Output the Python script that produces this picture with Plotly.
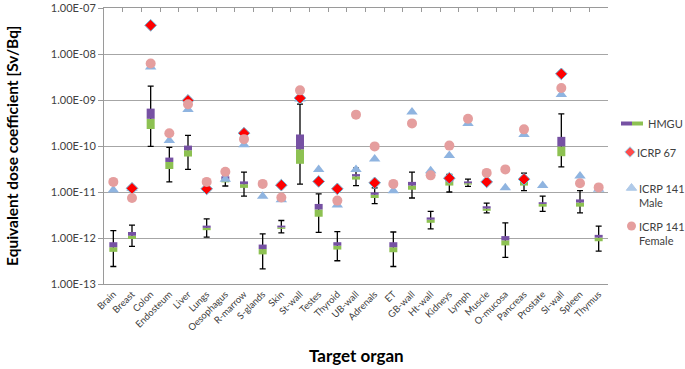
import plotly.graph_objects as go

# ---------------- data ----------------
organs = ["Brain", "Breast", "Colon", "Endosteum", "Liver", "Lungs", "Oesophagus",
          "R-marrow", "S-glands", "Skin", "St-wall", "Testes", "Thyroid", "UB-wall",
          "Adrenals", "ET", "GB-wall", "Ht-wall", "Kidneys", "Lymph", "Muscle",
          "O-mucosa", "Pancreas", "Prostate", "SI-wall", "Spleen", "Thymus"]

hmgu_max = [1.45e-12, 1.9e-12, 2.0e-9, 9.3e-11, 1.7e-10, 2.6e-12, 2.3e-11,
            2.7e-11, 1.23e-12, 2.4e-12, 8.1e-10, 9.1e-12, 1.38e-12, 3.3e-11,
            1.23e-11, 1.35e-12, 2.7e-11, 3.8e-12, 2.4e-11, 1.9e-11, 5.75e-12,
            2.14e-12, 2.57e-11, 8.1e-12, 5.0e-10, 1.07e-11, 1.82e-12]
hmgu_q3 = [8.1e-13, 1.35e-12, 6.5e-10, 5.6e-11, 1.02e-10, 1.86e-12, 2.19e-11,
           1.7e-11, 7.2e-13, 1.86e-12, 1.78e-10, 5.5e-12, 8.1e-13, 2.45e-11,
           9.8e-12, 8.1e-13, 1.66e-11, 2.8e-12, 2.0e-11, 1.7e-11, 4.9e-12,
           1.1e-12, 2.0e-11, 6.0e-12, 1.58e-10, 6.9e-12, 1.17e-12]
hmgu_med = [6.3e-13, 1.12e-12, 3.9e-10, 4.5e-11, 8.1e-11, 1.66e-12, 1.86e-11,
            1.48e-11, 5.75e-13, 1.7e-12, 8.5e-11, 4.17e-12, 6.8e-13, 2.19e-11,
            8.7e-12, 6.3e-13, 1.38e-11, 2.5e-12, 1.7e-11, 1.55e-11, 4.37e-12,
            8.9e-13, 1.7e-11, 5.5e-12, 9.8e-11, 5.9e-12, 1.02e-12]
hmgu_q1 = [5.0e-13, 9.5e-13, 2.34e-10, 3.16e-11, 5.9e-11, 1.48e-12, 1.62e-11,
           1.23e-11, 4.4e-13, 1.58e-12, 4.1e-11, 2.9e-12, 5.6e-13, 1.86e-11,
           7.4e-12, 4.9e-13, 1.12e-11, 2.14e-12, 1.38e-11, 1.45e-11, 3.9e-12,
           6.9e-13, 1.38e-11, 4.8e-12, 6.0e-11, 4.8e-12, 8.5e-13]
hmgu_min = [2.4e-13, 6.6e-13, 9.8e-11, 1.66e-11, 3.1e-11, 1.05e-12, 1.35e-11,
            8.1e-12, 2.14e-13, 1.29e-12, 1.48e-11, 1.32e-12, 3.2e-13, 1.38e-11,
            5.6e-12, 2.4e-13, 7.4e-12, 1.58e-12, 1.0e-11, 1.32e-11, 3.5e-12,
            3.8e-13, 1.07e-11, 3.8e-12, 3.5e-11, 3.5e-12, 5.2e-13]

icrp67 = [None, 1.2e-11, 4.2e-8, None, 9.8e-10, 1.17e-11, None,
          1.9e-10, None, 1.41e-11, 1.1e-9, 1.7e-11, 1.17e-11, None,
          1.58e-11, None, None, None, 2.0e-11, None, 1.66e-11,
          None, 1.9e-11, None, 3.7e-9, None, None]
icrp141_male = [1.1e-11, 1.2e-11, 5.2e-9, 1.32e-10, 6.2e-10, 1.29e-11, 1.9e-11,
                1.07e-10, 8.1e-12, 6.8e-12, 1.05e-9, 3.1e-11, 5.2e-12, 3.1e-11,
                5.2e-11, 1.07e-11, 5.5e-10, 2.9e-11, 6.2e-11, 3.1e-10, 1.82e-11,
                1.23e-11, 1.78e-10, 1.38e-11, 1.32e-9, 2.24e-11, 1.15e-11]
icrp141_female = [1.66e-11, 7.4e-12, 6.2e-9, 1.9e-10, 8.1e-10, 1.66e-11, 2.75e-11,
                  1.41e-10, 1.5e-11, 7.6e-12, 1.62e-9, None, 6.5e-12, 4.8e-10,
                  9.8e-11, 1.5e-11, 3.1e-10, 2.3e-11, 1.02e-10, 3.9e-10, 2.6e-11,
                  3.1e-11, 2.3e-10, None, 1.82e-9, 1.55e-11, 1.26e-11]

y_tick_vals = [1e-13, 1e-12, 1e-11, 1e-10, 1e-9, 1e-8, 1e-7]
y_tick_text = ["1.00E-13", "1.00E-12", "1.00E-11", "1.00E-10", "1.00E-09",
               "1.00E-08", "1.00E-07"]

# ---------------- styling ----------------
FONT = "Lato"
TXT = "#404040"
AX = "#9a9a9a"
GRID = "#a6a6a6"
PURPLE = "#7651a3"
GREEN = "#8dc152"
BLUE = "#8fb4e0"
PINK = "#e59e9e"
RED = "#ff0000"

n = len(organs)
xs = list(range(n))


def segments(lo, hi):
    sx, sy = [], []
    for i in range(n):
        sx += [i, i, None]
        sy += [lo[i], hi[i], None]
    return sx, sy


fig = go.Figure()

# whiskers (drawn first so boxes sit above them)
fig.add_trace(go.Scatter(
    x=xs, y=hmgu_med, mode="markers",
    marker=dict(size=2, color="rgba(0,0,0,0)"),
    error_y=dict(type="data", symmetric=False,
                 array=[hmgu_max[i] - hmgu_med[i] for i in range(n)],
                 arrayminus=[hmgu_med[i] - hmgu_min[i] for i in range(n)],
                 color="black", thickness=1.3, width=3),
    hoverinfo="skip", showlegend=False))

gx, gy = segments(hmgu_q1, hmgu_med)
fig.add_trace(go.Scatter(x=gx, y=gy, mode="lines",
                         line=dict(color=GREEN, width=8), hoverinfo="skip"))
px_, py_ = segments(hmgu_med, hmgu_q3)
fig.add_trace(go.Scatter(x=px_, y=py_, mode="lines",
                         line=dict(color=PURPLE, width=8), hoverinfo="skip"))

fig.add_trace(go.Scatter(x=xs, y=icrp141_male, mode="markers",
                         marker=dict(symbol="triangle-up", size=10, color=BLUE)))
fig.add_trace(go.Scatter(x=xs, y=icrp67, mode="markers",
                         marker=dict(symbol="diamond", size=9, color=RED,
                                     line=dict(color="#6db6d8", width=1))))
fig.add_trace(go.Scatter(x=xs, y=icrp141_female, mode="markers",
                         marker=dict(symbol="circle", size=10, color=PINK)))

# invisible trace to activate the top tick axis
fig.add_trace(go.Scatter(x=[0], y=[1e-10], xaxis="x2", mode="markers",
                         marker=dict(opacity=0), hoverinfo="skip"))

# ---------------- legend (custom) ----------------
fig.add_trace(go.Scatter(x=[630, 631.5], y=[152, 188], xaxis="x3", yaxis="y3",
                         mode="markers", cliponaxis=False,
                         marker=dict(symbol=["diamond", "triangle-up"], size=[8, 9],
                                     color=[RED, BLUE],
                                     line=dict(color=["#6db6d8", BLUE], width=1)),
                         hoverinfo="skip"))
fig.add_trace(go.Scatter(x=[631.5], y=[226], xaxis="x3", yaxis="y3",
                         mode="markers", cliponaxis=False,
                         marker=dict(symbol="circle", size=9, color=PINK),
                         hoverinfo="skip"))

shapes = [
    dict(type="line", xref="x3", yref="y3", x0=621, x1=632, y0=123.5, y1=123.5,
         line=dict(color=PURPLE, width=4)),
    dict(type="line", xref="x3", yref="y3", x0=632, x1=643, y0=123.5, y1=123.5,
         line=dict(color=GREEN, width=4)),
]

lfont = dict(family=FONT, size=11, color=TXT)
annotations = [
    dict(text="HMGU", xref="x3", yref="y3", x=646, y=123.5, xanchor="left",
         yanchor="middle", showarrow=False, font=lfont),
    dict(text="ICRP 67", xref="x3", yref="y3", x=635, y=152, xanchor="left",
         yanchor="middle", showarrow=False, font=lfont),
    dict(text="ICRP 141<br>Male", xref="x3", yref="y3", x=637, y=180,
         xanchor="left", yanchor="top", align="left", showarrow=False, font=lfont),
    dict(text="ICRP 141<br>Female", xref="x3", yref="y3", x=637, y=218,
         xanchor="left", yanchor="top", align="left", showarrow=False, font=lfont),
    dict(text="<b>Target organ</b>", xref="x domain", yref="paper", x=0.5,
         y=(284 - 355) / 276, xanchor="center", yanchor="middle", showarrow=False,
         font=dict(family=FONT, size=17, color="black")),
    dict(text="<b>Equivalent dose coefficient [Sv/Bq]</b>", xref="paper",
         yref="y domain", x=(12 - 104) / 577, y=0.5, textangle=-90,
         xanchor="center", yanchor="middle", showarrow=False,
         font=dict(family=FONT, size=15.5, color="black")),
]

dom = 504 / 577

fig.update_layout(
    width=685, height=369,
    margin=dict(l=104, r=4, t=8, b=85, autoexpand=False),
    plot_bgcolor="white", paper_bgcolor="white",
    showlegend=False,
    shapes=shapes, annotations=annotations,
    xaxis=dict(domain=[0, dom], range=[-0.5, n - 0.5], tickmode="array",
               tickvals=xs, ticktext=organs, tickangle=-45, ticks="",
               showline=True, linecolor=AX, showgrid=False, zeroline=False,
               tickfont=dict(family=FONT, size=9.5, color=TXT), anchor="y",
               automargin=False),
    xaxis2=dict(overlaying="x", matches="x", side="top", anchor="y",
                tickmode="array", tickvals=[i - 0.5 for i in range(n + 1)],
                ticks="inside", ticklen=4, tickcolor=AX, showline=True,
                linecolor=AX, showticklabels=False, showgrid=False, zeroline=False,
                automargin=False),
    yaxis=dict(type="log", range=[-13, -7], tickmode="array",
               tickvals=y_tick_vals, ticktext=y_tick_text, ticks="outside",
               ticklen=5, tickcolor=AX, showline=True, linecolor=AX,
               gridcolor=GRID, gridwidth=1, zeroline=False,
               tickfont=dict(family=FONT, size=11, color=TXT), automargin=False),
    xaxis3=dict(domain=[dom, 1], range=[608, 681], visible=False, anchor="y3",
                automargin=False),
    yaxis3=dict(domain=[0, 1], range=[284, 8], visible=False, anchor="x3",
                automargin=False),
)

# remove the browser's default 8px page margin so the figure sits at (0, 0)
fig.write_html("out.html", config={"displayModeBar": False},
               post_script="document.body.style.margin='0px';")
